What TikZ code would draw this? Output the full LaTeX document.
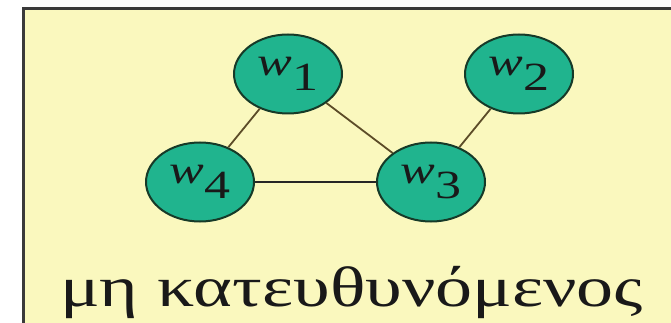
\documentclass[tikz,border=0pt]{standalone}
\usepackage{fontspec}
\setmainfont{Liberation Serif}
\usepackage{graphicx}
\usetikzlibrary{shapes.geometric}
\definecolor{bgyellow}{RGB}{250,248,190}
\definecolor{nodefill}{RGB}{32,180,142}
\definecolor{nodeline}{RGB}{22,58,40}
\definecolor{edgebrown}{RGB}{92,76,40}
\definecolor{boxline}{RGB}{58,58,58}
\newcommand{\wlab}[1]{\scalebox{1.3}[1]{\fontsize{40}{40}\selectfont\itshape w\kern1pt\raisebox{-15pt}{\upshape #1}}}
\tikzset{
  vert/.style={ellipse, draw=nodeline, line width=2pt, fill=nodefill,
    minimum width=108pt, minimum height=79pt, inner sep=0pt, text=black!90},
  edge/.style={draw=edgebrown, line width=1.8pt},
  hedge/.style={draw=black!85, line width=2pt}
}
\begin{document}
\begin{tikzpicture}[x=1pt,y=-1pt]
\useasboundingbox (0,0) rectangle (671,323);
\fill[white] (0,0) rectangle (671,323);
\begin{scope}
\clip (0,0) rectangle (671,323);
\draw[boxline, line width=2.5pt, fill=bgyellow] (23.5,8.5) rectangle (690,345);
\end{scope}
\node[vert] (w1) at (288,74) {\raisebox{2pt}{\wlab{1}}};
\node[vert] (w2) at (519,74) {\raisebox{2pt}{\wlab{2}}};
\node[vert] (w4) at (200,182) {\raisebox{2pt}{\wlab{4}}};
\node[vert] (w3) at (431,182) {\raisebox{2pt}{\wlab{3}}};
\draw[edge] (w1) -- (w4);
\draw[edge] (w1) -- (w3);
\draw[edge] (w3) -- (w2);
\draw[hedge] (w4) -- (w3);
\node[anchor=base west, inner sep=0pt, text=black!90] (lbl) at (60,306) {\resizebox{583pt}{\height}{\fontsize{57}{60}\selectfont μη κατευθυνόμενος}};
\end{tikzpicture}
\end{document}
